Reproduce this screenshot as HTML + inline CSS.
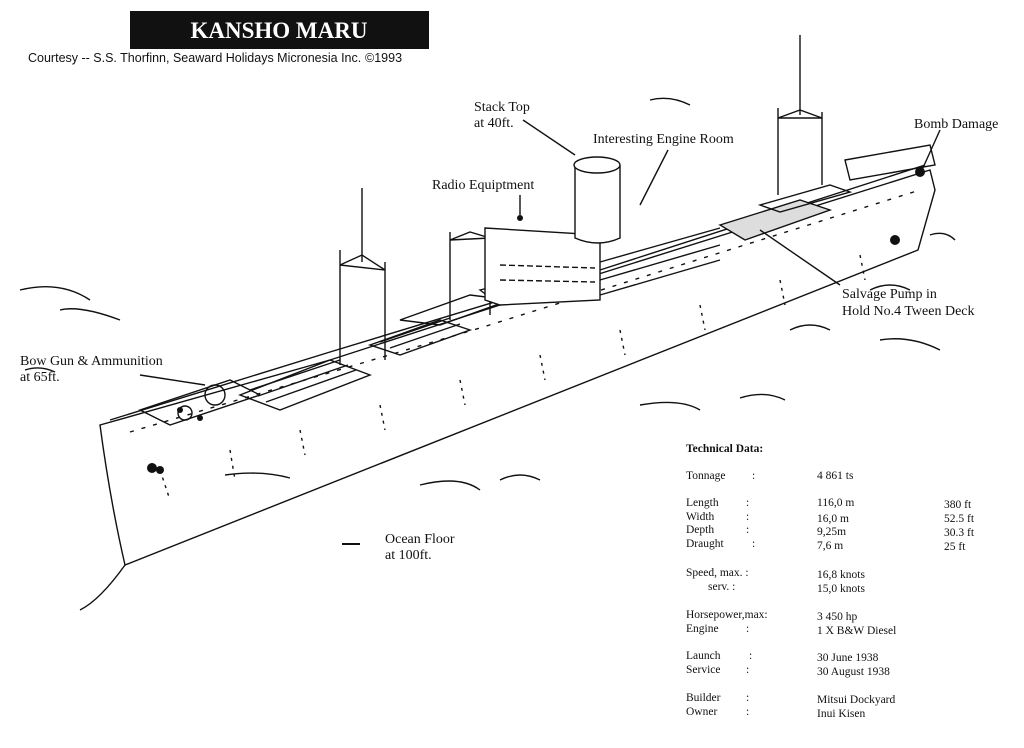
<!DOCTYPE html>
<html><head><meta charset="utf-8"><style>
html,body{margin:0;padding:0;background:#fff;}
svg{display:block}
.s{font-family:"Liberation Serif",serif;font-size:14px;fill:#111}
.t{font-family:"Liberation Serif",serif;font-size:11.5px;fill:#111}
</style></head><body>
<svg width="1024" height="748" viewBox="0 0 1024 748" xmlns="http://www.w3.org/2000/svg">
<rect width="1024" height="748" fill="#fff"/>
<rect x="130" y="11" width="299" height="38" fill="#111"/>
<text x="279" y="38" text-anchor="middle" font-family="Liberation Serif,serif" font-weight="bold" font-size="23" fill="#fff">KANSHO MARU</text>
<text x="28" y="62" font-family="Liberation Sans,sans-serif" font-size="12.5" fill="#111">Courtesy -- S.S. Thorfinn, Seaward Holidays Micronesia Inc.</text>
<text x="365" y="62" font-family="Liberation Sans,sans-serif" font-size="12.5" fill="#111">©1993</text>

<g fill="none" stroke="#111" stroke-width="1.4">
<path d="M100,425 L330,360 L500,305 L930,170 L935,190 L918,250 L125,565 Q110,500 100,425 Z" fill="#fff"/>
<path d="M110,420 L330,352 L600,270 L925,165"/>
<path d="M130,432 L480,328 L920,190" stroke-dasharray="4 8"/>
<path d="M160,470 L170,500 M230,450 L235,480 M300,430 L305,455 M380,405 L385,430 M460,380 L465,405 M540,355 L545,380 M620,330 L625,355 M700,305 L705,330 M780,280 L785,305 M860,255 L865,280" stroke-dasharray="3 5"/>
<path d="M125,565 Q100,600 80,610"/>
<path d="M140,410 L230,380 L260,395 L170,425 Z"/>
<path d="M240,395 L330,360 L370,375 L280,410 Z"/>
<path d="M250,390 L340,360 M258,396 L348,365 M266,402 L356,370"/>
<path d="M370,345 L440,320 L470,330 L400,355 Z"/>
<path d="M380,342 L450,318 M390,348 L460,324"/>
<path d="M400,320 L470,295 L510,300 L440,325 Z"/>
<path d="M480,290 L560,270 L580,285 L500,305 Z"/>
<path d="M720,225 L800,200 L830,210 L745,240 Z" fill="#ddd"/>
<path d="M760,205 L830,185 L850,192 L780,212 Z"/>
<path d="M340,250 L340,365 M385,262 L385,360 M340,265 L385,270 M340,265 L362,255 L385,270"/>
<path d="M362,188 L362,262"/>
<path d="M450,232 L450,320 M490,230 L490,315 M450,240 L490,238 M450,240 L470,232 L490,238"/>
<path d="M778,108 L778,195 M822,112 L822,185 M778,118 L822,118 M778,118 L800,110 L822,118"/>
<path d="M800,35 L800,115"/>
<path d="M485,228 L600,235 L600,300 L500,305 L485,300 Z" fill="#fff"/>
<path d="M500,265 L595,268 M500,280 L595,282" stroke-dasharray="6 3"/>
<path d="M600,262 L720,228 M600,280 L720,245 M600,295 L720,260"/>
<path d="M575,165 L575,238 Q598,248 620,238 L620,165" fill="#fff"/>
<ellipse cx="597" cy="165" rx="23" ry="8" fill="#fff"/>
<path d="M845,160 L930,145 L935,165 L850,180 Z"/>
<circle cx="215" cy="395" r="10"/>
<circle cx="185" cy="413" r="7"/>
<path d="M523,120 L575,155"/>
<path d="M668,150 L640,205"/>
<path d="M520,195 L520,215"/>
<path d="M940,130 L922,170"/>
<path d="M840,285 L760,230"/>
<path d="M140,375 L205,385"/>
<path d="M342,544 L360,544" stroke-width="2"/>
<path d="M650,100 Q670,95 690,105 M870,290 Q890,280 910,290 M790,330 Q810,320 830,330 M880,340 Q910,335 940,350 M740,398 Q765,390 785,400 M640,405 Q680,398 700,410 M420,485 Q460,475 480,490 M500,480 Q520,470 540,480 M20,290 Q60,280 90,300 M60,310 Q80,305 120,320 M225,475 Q260,470 290,478 M25,370 Q40,365 55,372 M930,235 Q945,230 955,240"/>
</g>
<g fill="#111">
<circle cx="152" cy="468" r="5"/><circle cx="160" cy="470" r="4"/>
<circle cx="920" cy="172" r="5"/><circle cx="895" cy="240" r="5"/>
<circle cx="520" cy="218" r="3"/>
<circle cx="180" cy="410" r="3"/><circle cx="200" cy="418" r="3"/>
</g>

<text class="s" x="474" y="111">Stack Top</text>
<text class="s" x="474" y="127">at 40ft.</text>
<text class="s" x="593" y="143">Interesting Engine Room</text>
<text class="s" x="432" y="189">Radio Equiptment</text>
<text class="s" x="914" y="128">Bomb Damage</text>
<text class="s" x="842" y="298">Salvage Pump in</text>
<text class="s" x="842" y="315">Hold No.4 Tween Deck</text>
<text class="s" x="20" y="365">Bow Gun &amp; Ammunition</text>
<text class="s" x="20" y="381">at 65ft.</text>
<text class="s" x="385" y="543">Ocean Floor</text>
<text class="s" x="385" y="559">at 100ft.</text>

<text class="t" x="686" y="452" font-weight="bold">Technical Data:</text>
<text class="t" x="686" y="479">Tonnage</text><text class="t" x="752" y="479">:</text><text class="t" x="817" y="479">4 861 ts</text>
<text class="t" x="686" y="506">Length</text><text class="t" x="746" y="506">:</text><text class="t" x="817" y="506">116,0 m</text><text class="t" x="944" y="508">380   ft</text>
<text class="t" x="686" y="520">Width</text><text class="t" x="746" y="520">:</text><text class="t" x="817" y="522">16,0 m</text><text class="t" x="944" y="522">52.5 ft</text>
<text class="t" x="686" y="533">Depth</text><text class="t" x="746" y="533">:</text><text class="t" x="817" y="535">9,25m</text><text class="t" x="944" y="536">30.3 ft</text>
<text class="t" x="686" y="547">Draught</text><text class="t" x="752" y="547">:</text><text class="t" x="817" y="549">7,6 m</text><text class="t" x="944" y="550">25   ft</text>
<text class="t" x="686" y="576">Speed,  max. :</text><text class="t" x="817" y="578">16,8 knots</text>
<text class="t" x="708" y="590">serv. :</text><text class="t" x="817" y="592">15,0 knots</text>
<text class="t" x="686" y="618">Horsepower,max:</text><text class="t" x="817" y="620">3 450 hp</text>
<text class="t" x="686" y="632">Engine</text><text class="t" x="746" y="632">:</text><text class="t" x="817" y="634">1 X B&amp;W Diesel</text>
<text class="t" x="686" y="659">Launch</text><text class="t" x="749" y="659">:</text><text class="t" x="817" y="661">30 June 1938</text>
<text class="t" x="686" y="673">Service</text><text class="t" x="746" y="673">:</text><text class="t" x="817" y="675">30 August 1938</text>
<text class="t" x="686" y="701">Builder</text><text class="t" x="746" y="701">:</text><text class="t" x="817" y="703">Mitsui Dockyard</text>
<text class="t" x="686" y="715">Owner</text><text class="t" x="746" y="715">:</text><text class="t" x="817" y="717">Inui Kisen</text>
</svg>
</body></html>
